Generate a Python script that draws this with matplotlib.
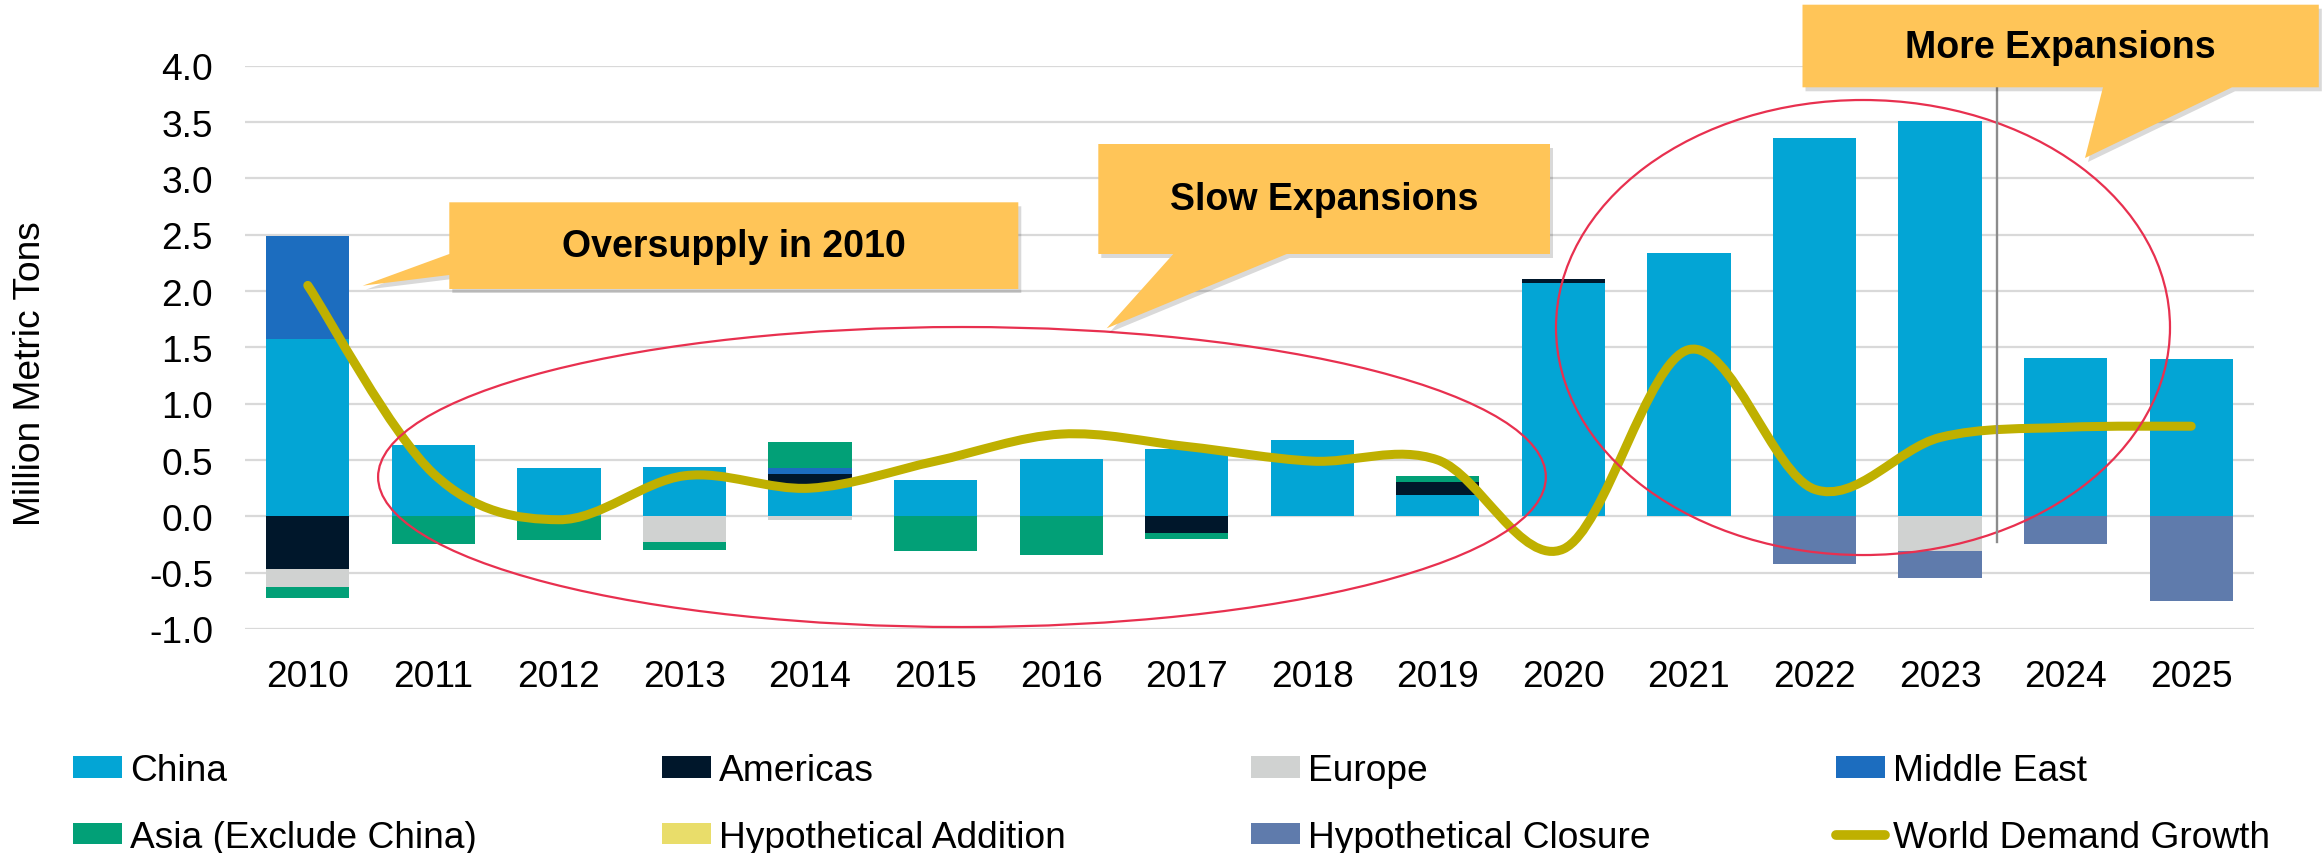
import numpy as np
import matplotlib
matplotlib.use("Agg")
import matplotlib.pyplot as plt
from matplotlib.patches import Ellipse, Polygon, PathPatch, Patch
from matplotlib.lines import Line2D
from matplotlib.path import Path

plt.rcParams['font.family'] = ['Liberation Sans', 'DejaVu Sans']
plt.rcParams['axes.unicode_minus'] = False

# ---------------- data ----------------
years = [str(y) for y in range(2010, 2026)]
china = [1.57, 0.63, 0.43, 0.435, 0.28, 0.32, 0.51, 0.60, 0.68, 0.19, 2.07, 2.34, 3.355, 3.51, 1.405, 1.40]
americas = [-0.468, 0, 0, 0, 0.095, 0, 0, -0.148, 0, 0.117, 0.04, 0, 0, 0, 0, 0]
europe = [-0.162, 0, 0, -0.231, -0.03, 0, 0, 0, 0, 0, 0, 0, 0, -0.305, 0, 0]
middle_east = [0.915, 0, 0, 0, 0.05, 0, 0, 0, 0, 0, 0, 0, 0, 0, 0, 0]
asia_ex_china = [-0.098, -0.246, -0.213, -0.065, 0.237, -0.308, -0.347, -0.056, 0, 0.048, 0, 0, 0, 0, 0, 0]
hyp_addition = [0] * 16
hyp_closure = [0, 0, 0, 0, 0, 0, 0, 0, 0, 0, 0, 0, -0.427, -0.245, -0.249, -0.749]
world_demand = [2.05, 0.38, -0.03, 0.36, 0.25, 0.49, 0.73, 0.62, 0.49, 0.50, -0.29, 1.48, 0.24, 0.70, 0.79, 0.80]
yticks = [-1.0, -0.5, 0.0, 0.5, 1.0, 1.5, 2.0, 2.5, 3.0, 3.5, 4.0]

series = [
    ("China", china, "#03A5D5"),
    ("Americas", americas, "#00172B"),
    ("Europe", europe, "#D0D2D1"),
    ("Middle East", middle_east, "#1C6DBF"),
    ("Asia (Exclude China)", asia_ex_china, "#02A077"),
    ("Hypothetical Addition", hyp_addition, "#E9DD6A"),
    ("Hypothetical Closure", hyp_closure, "#5F7BAC"),
]
line_color = "#BFB000"
FS = 26.7

W, H = 2324, 854
fig = plt.figure(figsize=(W / 100, H / 100), dpi=100)

def fx(px):
    return px / W

def fy(py):
    return 1 - py / H

ax = fig.add_axes([fx(245), fy(630), (2254 - 245) / W, (630 - 66.7) / H])
x = np.arange(len(years))
ax.set_xlim(-0.5, len(years) - 0.5)
ax.set_ylim(-1, 4)
for s in ax.spines.values():
    s.set_visible(False)
ax.set_yticks(yticks)
ax.set_yticklabels([f"{v:.1f}" for v in yticks])
ax.set_xticks(x)
ax.set_xticklabels(years)
ax.tick_params(axis='both', length=0, labelsize=FS)
ax.tick_params(axis='y', pad=23)
ax.tick_params(axis='x', pad=21.5)
ax.yaxis.grid(True, color="#D9D9D9", lw=1.6)
ax.set_axisbelow(True)

# stacked bars
bw = 0.663
pos_base = np.zeros(len(years))
neg_base = np.zeros(len(years))
handles = {}
for name, vals, col in series:
    v = np.array(vals, dtype=float)
    pos = np.where(v > 0, v, 0)
    neg = np.where(v < 0, v, 0)
    ax.bar(x, pos, bw, bottom=pos_base, color=col, lw=0, zorder=2)
    ax.bar(x, neg, bw, bottom=neg_base, color=col, lw=0, zorder=2)
    pos_base += pos
    neg_base += neg
    handles[name] = Patch(facecolor=col, edgecolor='none')

# smoothed demand line (cubic Bezier through the data points)
pts = np.column_stack([x, world_demand]).astype(float)
ext = np.vstack([pts[0], pts, pts[-1]])
verts = [tuple(pts[0])]
codes = [Path.MOVETO]
for i in range(len(pts) - 1):
    p0, p1, p2, p3 = ext[i], ext[i + 1], ext[i + 2], ext[i + 3]
    c1 = p1 + (p2 - p0) / 6.0
    c2 = p2 - (p3 - p1) / 6.0
    verts += [tuple(c1), tuple(c2), tuple(p2)]
    codes += [Path.CURVE4] * 3
ax.add_patch(PathPatch(Path(verts, codes), fill=False, edgecolor=line_color,
                       lw=6.5, capstyle='round', joinstyle='round', zorder=4))
handles["World Demand Growth"] = Line2D([], [], color=line_color, lw=7, solid_capstyle='round')

# red ellipses
ax.add_patch(Ellipse((5.21, 0.349), 9.30, 2.663, fill=False, edgecolor="#E8304F", lw=1.6, zorder=5, clip_on=False))
ax.add_patch(Ellipse((12.386, 1.676), 4.89, 4.039, fill=False, edgecolor="#E8304F", lw=1.6, zorder=5, clip_on=False))

# vertical divider
ax.plot([13.457, 13.457], [-0.228, 3.85], color="#8C8C8C", lw=1.7, zorder=5, clip_on=False)

# callouts
callouts = [
    ([(449.3, 203.3), (1018.3, 203.3), (1018.3, 290), (449.3, 290), (449.3, 276), (362.7, 286.7), (449.3, 255)],
     "Oversupply in 2010", (733.8, 247)),
    ([(1098.3, 145), (1550, 145), (1550, 255), (1286.7, 255), (1106.7, 329.3), (1173.3, 255), (1098.3, 255)],
     "Slow Expansions", (1324, 200)),
    ([(1802.5, 5.7), (2318.8, 5.7), (2318.8, 88.3), (2232, 88.3), (2085, 159), (2103, 88.3), (1802.5, 88.3)],
     "More Expansions", (2060.6, 47.5)),
]
for poly, label, (tx, ty) in callouts:
    sh = [(fx(px + 3), fy(py + 4)) for px, py in poly]
    fig.patches.append(Polygon(sh, closed=True, transform=fig.transFigure, facecolor=(0, 0, 0, 0.15),
                               edgecolor='none', zorder=6))
    pp = [(fx(px), fy(py)) for px, py in poly]
    fig.patches.append(Polygon(pp, closed=True, transform=fig.transFigure, facecolor="#FFC558",
                               edgecolor='none', zorder=7))
    fig.text(fx(tx), fy(ty), label, fontsize=27, fontweight='bold', ha='center', va='center',
             color='black', zorder=8)

# y label
fig.text(fx(31), fy(374), "Million Metric Tons", rotation=90, fontsize=FS, ha='center', va='center')

# legend (column-major order for 4 columns x 2 rows)
order = ["China", "Asia (Exclude China)", "Americas", "Hypothetical Addition",
         "Europe", "Hypothetical Closure", "Middle East", "World Demand Growth"]
fig.legend([handles[k] for k in order], order, loc='upper left', ncol=4,
           bbox_to_anchor=(fx(72.6), fy(754)), frameon=False, fontsize=FS,
           borderpad=0, borderaxespad=0, handlelength=1.32, handleheight=0.52,
           handletextpad=0.22, columnspacing=5.0, labelspacing=0.85)

fig.savefig("out.png", dpi=100)
